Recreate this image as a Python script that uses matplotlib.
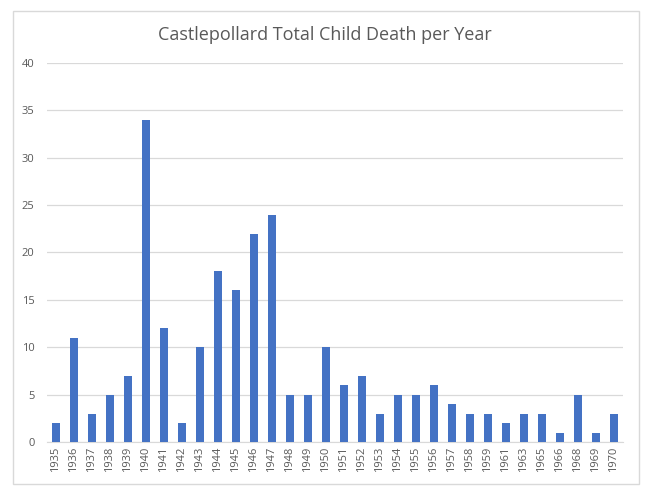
import matplotlib.pyplot as plt
from matplotlib.patches import Rectangle

anos = ["1935", "1936", "1937", "1938", "1939", "1940", "1941", "1942", "1943", "1944",
        "1945", "1946", "1947", "1948", "1949", "1950", "1951", "1952", "1953", "1954",
        "1955", "1956", "1957", "1958", "1959", "1961", "1963", "1965", "1966", "1968",
        "1969", "1970"]
mortes = [2, 11, 3, 5, 7, 34, 12, 2, 10, 18, 16, 22, 24, 5, 5, 10, 6, 7, 3, 5,
          5, 6, 4, 3, 3, 2, 3, 3, 1, 5, 1, 3]
marcas_y = [0, 5, 10, 15, 20, 25, 30, 35, 40]

plt.rcParams['font.family'] = ['Open Sans', 'DejaVu Sans']

fig = plt.figure(figsize=(6.5, 4.91), dpi=100)
# moldura cinza clara do grafico
fig.patches.append(Rectangle((13 / 650, 7 / 491), 626 / 650, 473 / 491, transform=fig.transFigure,
                             fill=False, edgecolor="#d9d9d9", linewidth=1))

ax = fig.add_axes([47 / 650, 1 - 442 / 491, 576 / 650, 379 / 491])
x = range(len(anos))
ax.bar(x, mortes, width=0.4, color="#4472C4", zorder=3)

ax.set_xlim(-0.5, len(anos) - 0.5)
ax.set_ylim(0, 40)
ax.set_yticks(marcas_y)
ax.set_xticks(list(x))
ax.set_xticklabels(anos, rotation=90)
ax.tick_params(axis="both", length=0, labelsize=8, labelcolor="#595959")
ax.tick_params(axis="y", pad=9)
ax.grid(axis="y", color="#d9d9d9", linewidth=0.9, zorder=0)
for lado in ["top", "right", "left"]:
    ax.spines[lado].set_visible(False)
ax.spines["bottom"].set_color("#d9d9d9")

fig.text(0.5, 1 - 35 / 491, "Castlepollard Total Child Death per Year", ha="center", va="center",
         fontsize=13, color="#595959")

plt.savefig("out.png", dpi=100)
